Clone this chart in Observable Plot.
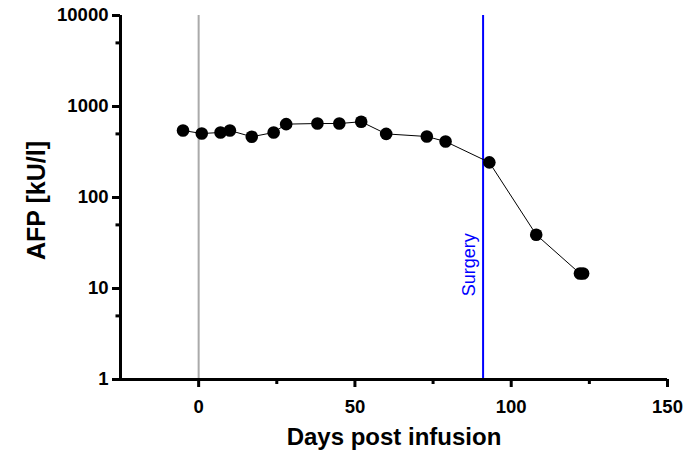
<!DOCTYPE html>
<html>
<head>
<meta charset="utf-8">
<script src="https://cdn.jsdelivr.net/npm/d3@7"></script>
<script src="https://cdn.jsdelivr.net/npm/@observablehq/plot@0.6"></script>
<style>
  html, body { margin: 0; padding: 0; background: #fff; }
  svg { font-family: "Liberation Sans", Arial, sans-serif; }
</style>
</head>
<body>
<div id="chart"></div>
<script>
const days = [-5, 1, 7, 10, 17, 24, 28, 38, 45, 52, 60, 73, 79, 93, 108, 122, 123];
const afp  = [545, 505, 518, 545, 465, 518, 640, 650, 650, 680, 500, 468, 412, 243, 39, 14.6, 14.6];
const yTicks = [1, 10, 100, 1000, 10000];
const yMinor = [5, 50, 500, 5000];
const xTicks = [0, 50, 100, 150];
const xMinor = [25, 75, 125];
const infusionDay = 0;
const surgeryDay = 91;
const surgeryLabel = "Surgery";
const xTitle = "Days post infusion";
const yTitle = "AFP [kU/l]";

const data = days.map((d, i) => ({day: d, afp: afp[i]}));

const chart = Plot.plot({
  width: 689,
  height: 453,
  marginLeft: 120,
  marginRight: 22,
  marginTop: 15,
  marginBottom: 74,
  style: {fontFamily: '"Liberation Sans", Arial, sans-serif', background: "#fff", overflow: "visible"},
  x: {domain: [-25, 150]},
  y: {type: "log", domain: [1, 10000]},
  marks: [
    Plot.ruleX([infusionDay], {stroke: "#aaaaaa", strokeWidth: 2}),
    Plot.ruleX([surgeryDay], {stroke: "#0000ff", strokeWidth: 2}),
    Plot.text([surgeryLabel], {x: surgeryDay, y: 8.2, rotate: -90, textAnchor: "start", dx: -14, fill: "#0000ff", fontSize: 18}),
    Plot.line(data, {x: "day", y: "afp", stroke: "#000", strokeWidth: 1}),
    Plot.dot(data, {x: "day", y: "afp", r: 6.3, fill: "#000", stroke: "none"}),
    Plot.axisY({ticks: yTicks, tickFormat: d => String(d), tickSize: 8, tickPadding: 4, stroke: "#000", strokeWidth: 3, strokeOpacity: 1, fontSize: 18.5, fontWeight: "bold", fill: "#000", label: null}),
    Plot.axisY({ticks: yMinor, tickFormat: null, text: null, tickSize: 4.5, stroke: "#000", strokeWidth: 3, strokeOpacity: 1, label: null}),
    Plot.axisX({ticks: xTicks, tickFormat: d => String(d), tickSize: 8, tickPadding: 12, stroke: "#000", strokeWidth: 3, strokeOpacity: 1, fontSize: 18.5, fontWeight: "bold", fill: "#000", label: null}),
    Plot.axisX({ticks: xMinor, tickFormat: null, text: null, tickSize: 5, stroke: "#000", strokeWidth: 3, strokeOpacity: 1, label: null}),
    Plot.ruleX([-25], {stroke: "#000", strokeWidth: 3}),
    Plot.ruleY([1], {stroke: "#000", strokeWidth: 3}),
    Plot.text([xTitle], {frameAnchor: "bottom", lineAnchor: "middle", dy: 58, fontSize: 24, fontWeight: "bold", fill: "#000"}),
    Plot.text([yTitle], {frameAnchor: "left", textAnchor: "middle", lineAnchor: "middle", rotate: -90, dx: -84, dy: 3, fontSize: 25, fontWeight: "bold", fill: "#000"})
  ]
});
document.getElementById("chart").appendChild(chart);
</script>
</body>
</html>
